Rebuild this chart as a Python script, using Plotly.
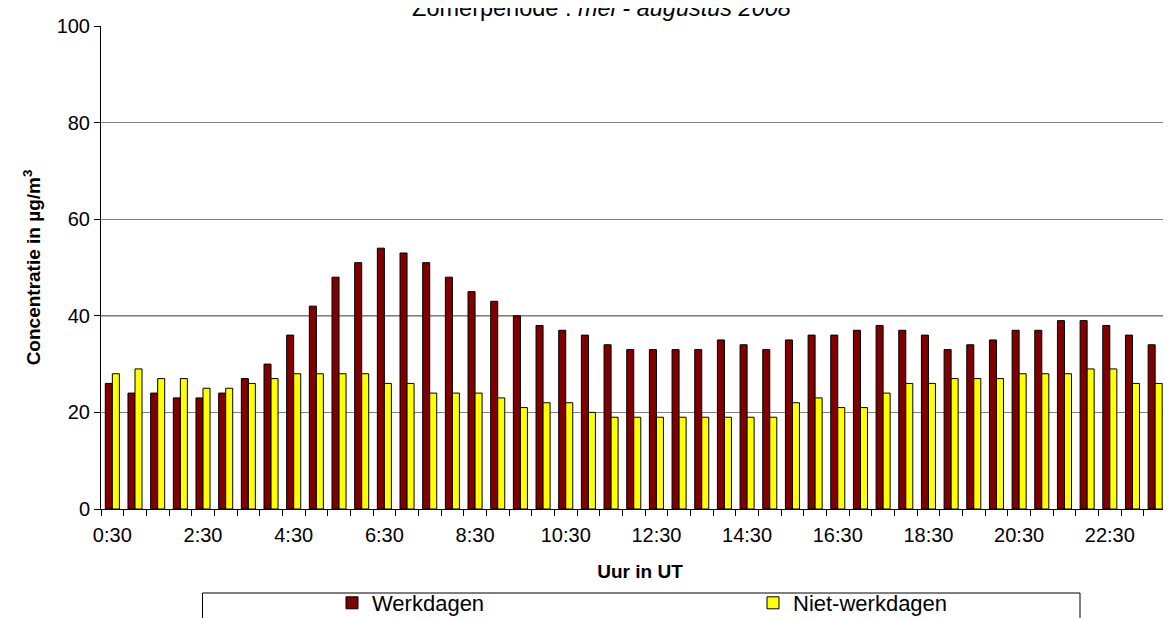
import plotly.graph_objects as go

# Categories: half-hour slots 0:30 ... 24:00
hours = []
for h in range(0, 24):
    hours.append(f"{h}:30")
    hours.append(f"{h+1}:00")

werkdagen = [26, 24, 24, 23, 23, 24, 27, 30, 36, 42, 48, 51, 54, 53, 51, 48,
             45, 43, 40, 38, 37, 36, 34, 33, 33, 33, 33, 35, 34, 33, 35, 36,
             36, 37, 38, 37, 36, 33, 34, 35, 37, 37, 39, 39, 38, 36, 34, 32]
niet_werkdagen = [28, 29, 27, 27, 25, 25, 26, 27, 28, 28, 28, 28, 26, 26, 24, 24,
                  24, 23, 21, 22, 22, 20, 19, 19, 19, 19, 19, 19, 19, 19, 22, 23,
                  21, 21, 24, 26, 26, 27, 27, 27, 28, 28, 28, 29, 29, 26, 26, 25]

labeled = ["0:30", "2:30", "4:30", "6:30", "8:30", "10:30", "12:30",
           "14:30", "16:30", "18:30", "20:30", "22:30"]
tick_text = [c if c in labeled else "" for c in hours]

W, H = 1171, 618
L, T, B = 93, 18, 117
PW, PH = W - L, H - T - B
cat_px = 22.67
x_end = -0.5 + PW / cat_px

FONT = "Liberation Sans, Arial, sans-serif"

# legend frame (pixels)
LB_L, LB_R, LB_T = 194.5, 1072, 585

fig = go.Figure()
fig.add_trace(go.Bar(x=hours, y=werkdagen, name="Werkdagen",
                     marker=dict(color="#800000", line=dict(color="#000000", width=1))))
fig.add_trace(go.Bar(x=hours, y=niet_werkdagen, name="Niet-werkdagen",
                     marker=dict(color="#FFFF00", line=dict(color="#000000", width=1))))

fig.update_layout(
    width=W, height=H,
    margin=dict(l=L, r=0, t=T, b=B, autoexpand=False),
    paper_bgcolor="white", plot_bgcolor="white",
    barmode="group", bargap=0.38, bargroupgap=0,
    font=dict(family=FONT, color="black", size=20),
    title=dict(text="Zomerperiode : <i>mei - augustus 2008</i>",
               x=593.5 / W, xanchor="center", xref="container",
               y=1.0, yanchor="middle", yref="container",
               font=dict(size=23.5, family=FONT, color="black")),
    showlegend=True,
    legend=dict(orientation="h", xref="container", yref="container",
                x=324 / W, xanchor="left", y=1 - 574 / H, yanchor="top",
                borderwidth=0, bgcolor="rgba(0,0,0,0)",
                entrywidthmode="pixels", entrywidth=376,
                font=dict(size=22, family=FONT, color="black"),
                traceorder="normal"),
    shapes=[
        dict(type="line", xref="paper", yref="y", x0=0, x1=1, y0=40, y1=40,
             line=dict(color="black", width=1), layer="below"),
        dict(type="rect", xref="paper", yref="paper",
             x0=(LB_L - L) / PW, x1=(LB_R - L) / PW,
             y0=(H - B - LB_T) / PH, y1=(H - B - 660) / PH,
             line=dict(color="black", width=1), fillcolor="rgba(0,0,0,0)",
             layer="above"),
    ],
)

fig.update_xaxes(
    type="category", range=[-0.5, x_end],
    tickmode="array", tickvals=hours, ticktext=tick_text,
    tickson="boundaries", ticks="outside", ticklen=6, tickcolor="black",
    ticklabelstandoff=8,
    showline=True, linecolor="black", linewidth=1,
    showgrid=False, tickangle=0,
    tickfont=dict(size=20),
    title=dict(text="<b>Uur in UT</b>", font=dict(size=19), standoff=21),
)
fig.update_yaxes(
    range=[0, 100], tickvals=[0, 20, 40, 60, 80, 100],
    ticks="outside", ticklen=6, tickcolor="black",
    showline=True, linecolor="black", linewidth=1,
    showgrid=True, gridcolor="#808080", gridwidth=1,
    zeroline=False,
    tickfont=dict(size=20),
    title=dict(text="<b>Concentratie in µg/m<sup>3</sup></b>", font=dict(size=19), standoff=10),
)

fig.write_html("out.html")
